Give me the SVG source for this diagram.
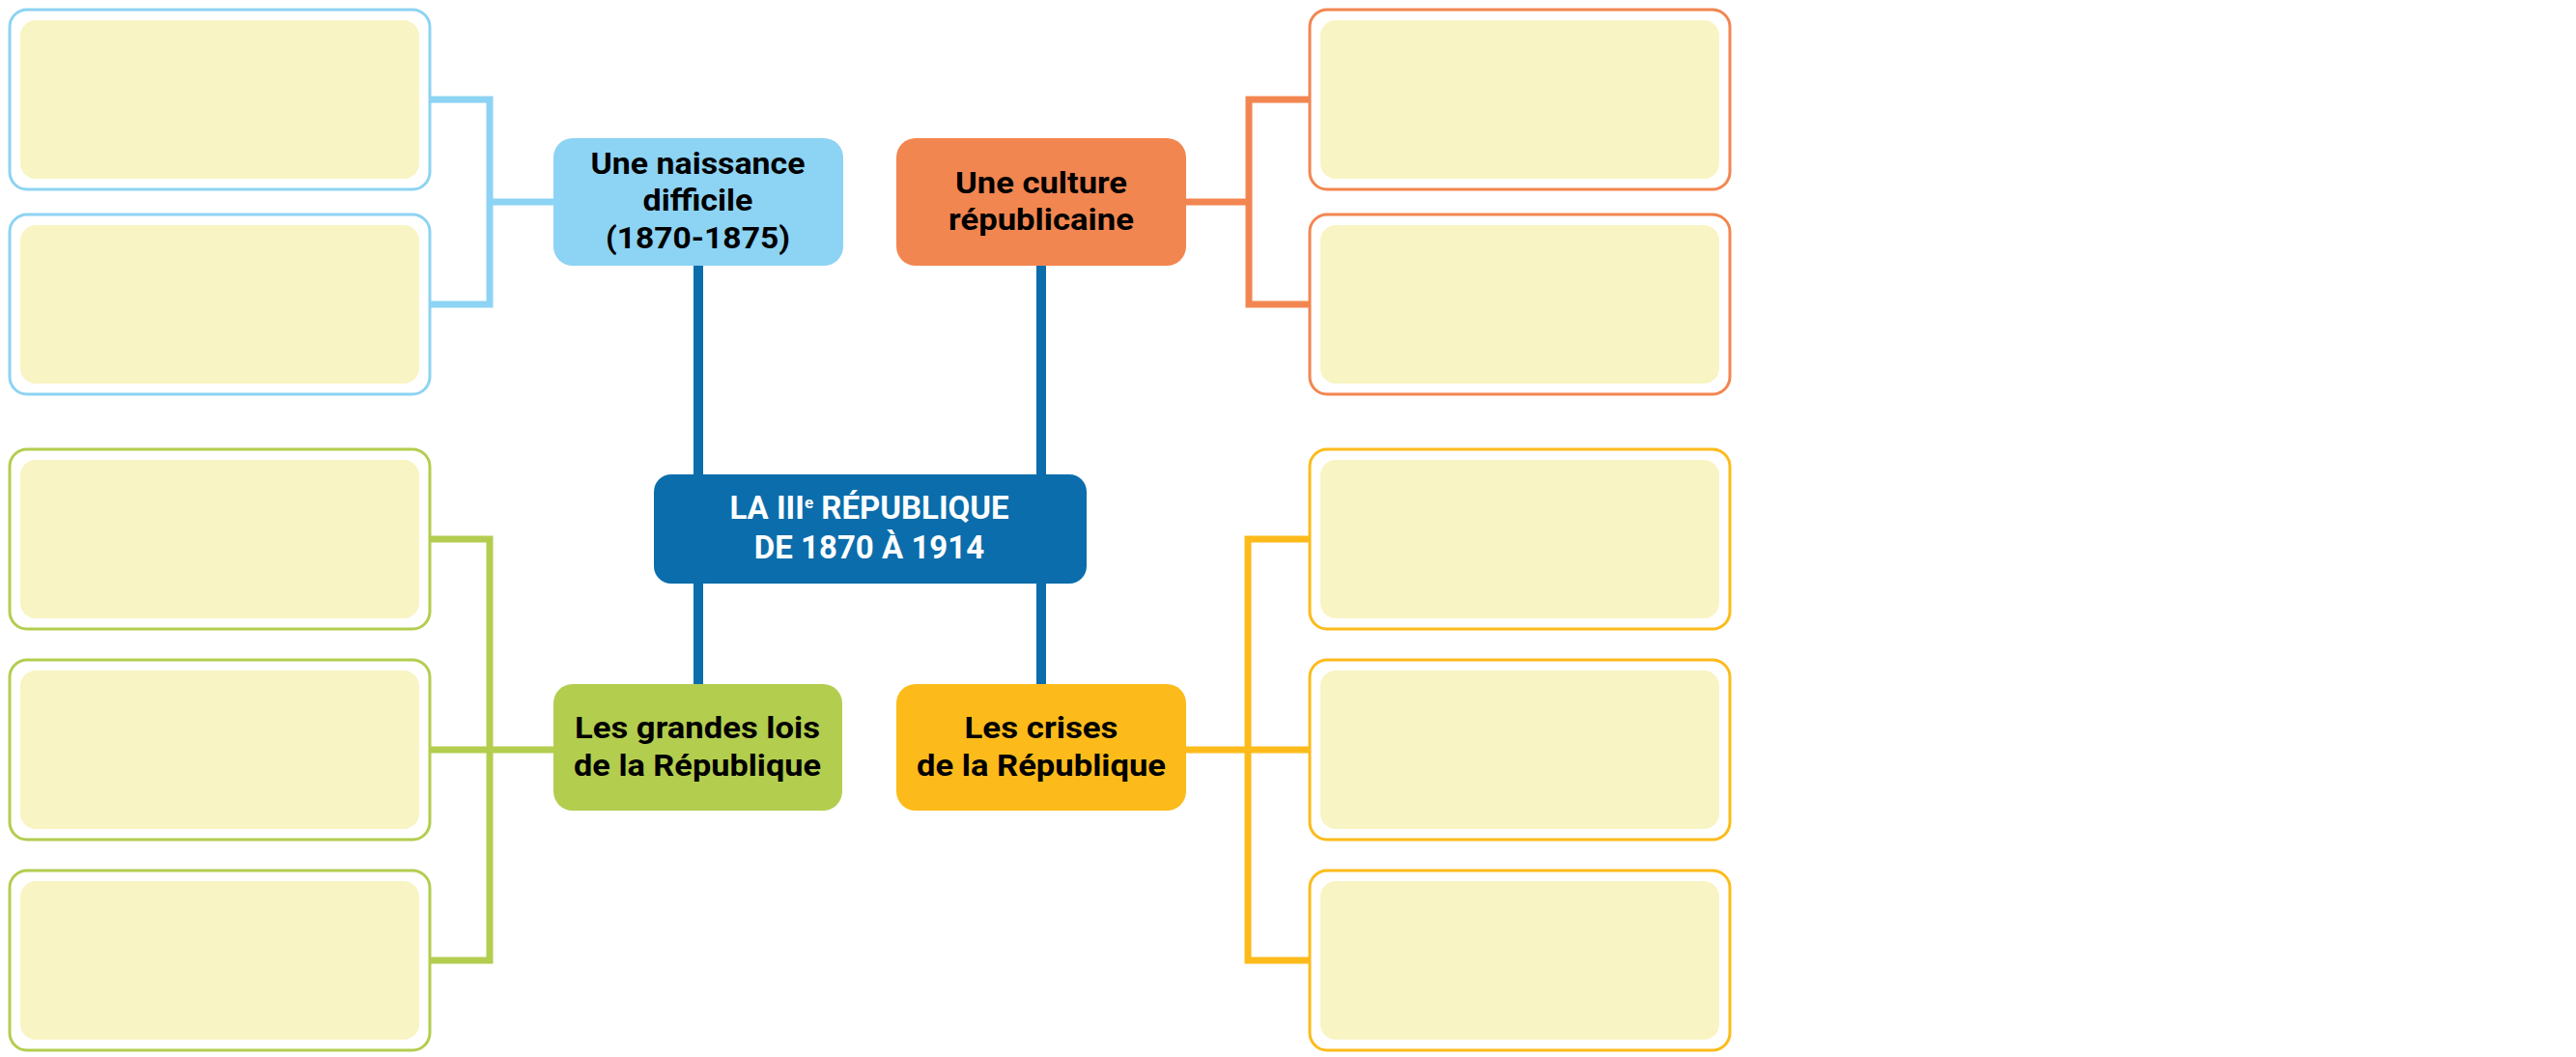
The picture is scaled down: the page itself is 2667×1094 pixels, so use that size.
<svg xmlns="http://www.w3.org/2000/svg" width="2667" height="1094" viewBox="0 0 2667 1094">
<style>
  .outer { fill: #ffffff; stroke-width: 3; }
  .inner { fill: #f8f4c3; }
  .conn { fill: none; stroke-width: 7; stroke-linejoin: miter; stroke-linecap: butt; }
  .lbl { font-family: Roboto, "Liberation Sans", sans-serif; font-weight: bold; font-size: 32px; fill: #000000; text-anchor: middle; }
  .ctr { font-family: Roboto, "Liberation Sans", sans-serif; font-weight: bold; font-size: 33px; fill: #ffffff; text-anchor: middle; }
</style>
<rect width="2667" height="1094" fill="#ffffff"/>
<g id="connectors">
  <line x1="723" y1="270" x2="723" y2="712" stroke="#0b6dab" stroke-width="10"/>
  <line x1="1078" y1="270" x2="1078" y2="712" stroke="#0b6dab" stroke-width="10"/>
  <path class="conn" stroke="#8dd3f3" d="M445 103 H507 V315 H445 M507 209 H575"/>
  <path class="conn" stroke="#f28650" d="M1356 103 H1293 V315 H1356 M1293 209 H1226"/>
  <path class="conn" stroke="#b3cd4f" d="M445 558 H507 V994 H445 M445 776 H575"/>
  <path class="conn" stroke="#fcbb1b" d="M1356 558 H1292 V994 H1356 M1356 776 H1226"/>
</g>
<g id="box-blue-1"><rect class="outer" stroke="#8dd3f3" x="10" y="10" width="435" height="186" rx="18"/><rect class="inner" x="21" y="21" width="413" height="164" rx="16"/></g>
<g id="box-blue-2"><rect class="outer" stroke="#8dd3f3" x="10" y="222" width="435" height="186" rx="18"/><rect class="inner" x="21" y="233" width="413" height="164" rx="16"/></g>
<g id="box-orange-1"><rect class="outer" stroke="#f28650" x="1356" y="10" width="435" height="186" rx="18"/><rect class="inner" x="1367" y="21" width="413" height="164" rx="16"/></g>
<g id="box-orange-2"><rect class="outer" stroke="#f28650" x="1356" y="222" width="435" height="186" rx="18"/><rect class="inner" x="1367" y="233" width="413" height="164" rx="16"/></g>
<g id="box-green-1"><rect class="outer" stroke="#b3cd4f" x="10" y="465" width="435" height="186" rx="18"/><rect class="inner" x="21" y="476" width="413" height="164" rx="16"/></g>
<g id="box-green-2"><rect class="outer" stroke="#b3cd4f" x="10" y="683" width="435" height="186" rx="18"/><rect class="inner" x="21" y="694" width="413" height="164" rx="16"/></g>
<g id="box-green-3"><rect class="outer" stroke="#b3cd4f" x="10" y="901" width="435" height="186" rx="18"/><rect class="inner" x="21" y="912" width="413" height="164" rx="16"/></g>
<g id="box-yellow-1"><rect class="outer" stroke="#fcbb1b" x="1356" y="465" width="435" height="186" rx="18"/><rect class="inner" x="1367" y="476" width="413" height="164" rx="16"/></g>
<g id="box-yellow-2"><rect class="outer" stroke="#fcbb1b" x="1356" y="683" width="435" height="186" rx="18"/><rect class="inner" x="1367" y="694" width="413" height="164" rx="16"/></g>
<g id="box-yellow-3"><rect class="outer" stroke="#fcbb1b" x="1356" y="901" width="435" height="186" rx="18"/><rect class="inner" x="1367" y="912" width="413" height="164" rx="16"/></g>
<g id="node-naissance">
  <rect x="573" y="143" width="300" height="132" rx="20" fill="#8dd3f3"/>
  <text class="lbl" x="722.5" y="180" textLength="222" lengthAdjust="spacingAndGlyphs">Une naissance</text>
  <text class="lbl" x="722.5" y="218" textLength="114" lengthAdjust="spacingAndGlyphs">difficile</text>
  <text class="lbl" x="722.5" y="257" textLength="191" lengthAdjust="spacingAndGlyphs">(1870-1875)</text>
</g>
<g id="node-culture">
  <rect x="928" y="143" width="300" height="132" rx="20" fill="#f28650"/>
  <text class="lbl" x="1078" y="200" textLength="178" lengthAdjust="spacingAndGlyphs">Une culture</text>
  <text class="lbl" x="1078" y="238" textLength="192" lengthAdjust="spacingAndGlyphs">républicaine</text>
</g>
<g id="node-center">
  <rect x="677" y="491" width="448" height="113" rx="18" fill="#0b6dab"/>
  <text class="ctr" x="900" y="537">LA III<tspan dy="-11" style="font-size:17px">e</tspan><tspan dy="11"> RÉPUBLIQUE</tspan></text>
  <text class="ctr" x="900" y="578">DE 1870 À 1914</text>
</g>
<g id="node-lois">
  <rect x="573" y="708" width="299" height="131" rx="20" fill="#b3cd4f"/>
  <text class="lbl" x="722" y="764" textLength="254" lengthAdjust="spacingAndGlyphs">Les grandes lois</text>
  <text class="lbl" x="722" y="803" textLength="256" lengthAdjust="spacingAndGlyphs">de la République</text>
</g>
<g id="node-crises">
  <rect x="928" y="708" width="300" height="131" rx="20" fill="#fcbb1b"/>
  <text class="lbl" x="1078" y="764" textLength="159" lengthAdjust="spacingAndGlyphs">Les crises</text>
  <text class="lbl" x="1078" y="803" textLength="258" lengthAdjust="spacingAndGlyphs">de la République</text>
</g>
</svg>
